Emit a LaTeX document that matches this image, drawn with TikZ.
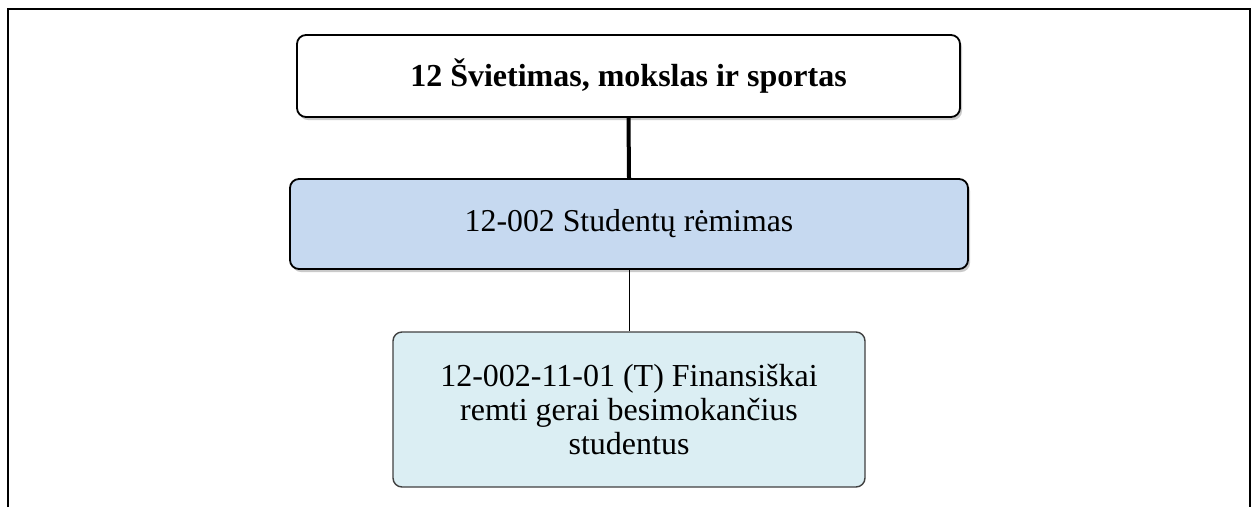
\documentclass[tikz,border=0pt]{standalone}
\usepackage{fontspec}
\setmainfont{Liberation Serif}
\usetikzlibrary{shadows}
\tikzset{
  box/.style={rectangle, rounded corners=9pt, draw=black, line width=1.8pt, align=center, inner sep=0pt},
  shadowed/.style={drop shadow={shadow xshift=2pt, shadow yshift=-3pt, opacity=0.35, fill=black!60}},
  frame/.style={draw=black, line width=1.6pt}
}
\definecolor{midblue}{HTML}{C6D9F0}
\definecolor{lowblue}{HTML}{DBEEF3}
\begin{document}
\begin{tikzpicture}[x=1pt,y=-1pt]
\useasboundingbox (0,0) rectangle (1255,507);
\draw[frame] (8,507) -- (8,9) -- (1250,9) -- (1250,507);
\node[box, shadowed, fill=white, minimum width=663pt, minimum height=82pt, font=\fontsize{32}{36}\selectfont\bfseries] (top) at (628.5,76) {12 Švietimas, mokslas ir sportas};
\node[box, shadowed, fill=midblue, minimum width=678pt, minimum height=90pt, font=\fontsize{31.8}{37}\selectfont] (mid) at (629,224) {12-002 Studentų rėmimas};
\node[box, draw=black!75, line width=1.4pt, fill=lowblue, minimum width=472pt, minimum height=155pt, font=\fontsize{32}{34}\selectfont] (low) at (629,409.5) {12-002-11-01 (T) Finansiškai\\remti gerai besimokančius\\studentus};
\draw[line width=4pt] (top.south) -- (mid.north);
\draw[line width=1pt] (mid.south) -- (low.north);
\end{tikzpicture}
\end{document}
